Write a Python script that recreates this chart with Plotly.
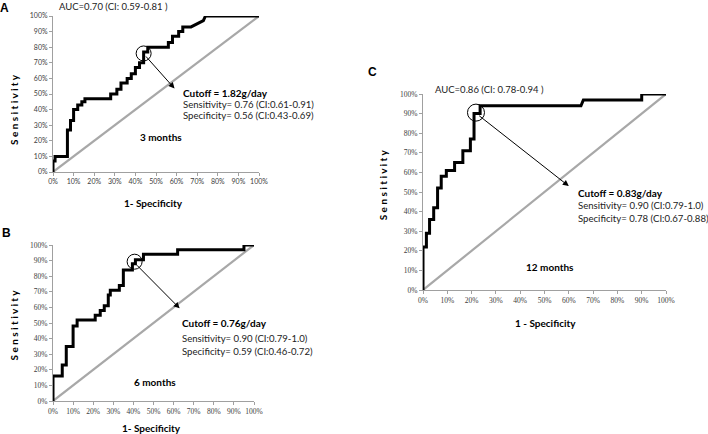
import plotly.graph_objects as go

# ---------------- data (percent) ----------------
fpr_3m = [0, 0, 1, 1, 7, 7, 8.5, 8.5, 10, 10, 12, 12, 14, 14, 15.5, 15.5, 28, 28, 31, 31,
          33, 33, 36, 36, 38, 38, 40, 40, 42, 42, 44, 44, 46, 46, 56, 56, 58, 58, 61, 61,
          63, 63, 67, 73, 74, 100]
tpr_3m = [0, 7, 7, 10, 10, 27, 27, 33, 33, 40, 40, 43, 43, 45, 45, 47, 47, 50, 50, 53,
          53, 57, 57, 60, 60, 63, 63, 67, 67, 70, 70, 77, 77, 80, 80, 83, 83, 87, 87, 90,
          90, 93, 93, 97, 100, 100]

fpr_6m = [0, 0, 4.6, 4.6, 6.6, 6.6, 10, 10, 12, 12, 21, 21, 23.5, 23.5, 25.5, 25.5, 27.5, 27.5,
          28.5, 28.5, 33, 33, 35, 35, 39.5, 39.5, 41, 41, 45, 45, 62, 62, 95, 95, 100]
tpr_6m = [0, 16, 16, 23, 23, 35, 35, 48, 48, 52, 52, 55, 55, 58, 58, 61, 61, 68,
          68, 71, 71, 74, 74, 84, 84, 88, 88, 90.5, 90.5, 94, 94, 97, 97, 100, 100]

fpr_12m = [0, 0, 1.4, 1.4, 2.7, 2.7, 4.4, 4.4, 6, 6, 7.5, 7.5, 9.6, 9.6, 13, 13, 16.4, 16.4,
           19.5, 19.5, 21, 21, 23.5, 23.5, 65, 66, 90, 90, 100]
tpr_12m = [0, 22, 22, 29, 29, 36, 36, 42, 42, 52, 52, 58, 58, 61, 61, 65, 65, 71,
           71, 77, 77, 90, 90, 94, 94, 97, 97, 100, 100]

ref_line = [0, 100]

cut_pts_x = [44, 40.6, 21.8]
cut_pts_y = [76, 89.3, 90.5]

tick_vals = list(range(0, 101, 10))
tick_text = [f"{v}%" for v in tick_vals]

panels = ["A", "B", "C"]
auc_text = ["AUC=0.70 (CI: 0.59-0.81 )", None, "AUC=0.86 (CI: 0.78-0.94 )"]
cutoff_text = ["Cutoff = 1.82g/day", "Cutoff = 0.76g/day", "Cutoff = 0.83g/day"]
sens_text = ["Sensitivity= 0.76 (CI:0.61-0.91)", "Sensitivity= 0.90 (CI:0.79-1.0)",
             "Sensitivity= 0.90 (CI:0.79-1.0)"]
spec_text = ["Specificity= 0.56 (CI:0.43-0.69)", "Specificity= 0.59 (CI:0.46-0.72)",
             "Specificity= 0.78 (CI:0.67-0.88)"]
period_text = ["3 months", "6 months", "12 months"]
xtitle_text = ["1- Specificity", "1- Specificity", "1 - Specificity"]
ytitle_word = "Sensitivity"

# ---------------- layout geometry ----------------
W, H = 708, 434
# plot boxes in pixels (left, right, top, bottom)
boxes = [(53, 259, 16, 172), (53, 254, 245, 401), (423, 666, 94, 290)]

def px(xp): return xp / W
def py(yp): return 1 - yp / H

fig = go.Figure()

curves = [(fpr_3m, tpr_3m), (fpr_6m, tpr_6m), (fpr_12m, tpr_12m)]
circle_sizes = [15, 15, 17]
for i, (fx, ty) in enumerate(curves):
    xa = "x" if i == 0 else f"x{i+1}"
    ya = "y" if i == 0 else f"y{i+1}"
    fig.add_trace(go.Scatter(x=ref_line, y=ref_line, mode="lines", xaxis=xa, yaxis=ya,
                             line=dict(color="#a8a8a8", width=2.2), cliponaxis=False,
                             showlegend=False, hoverinfo="skip"))
    fig.add_trace(go.Scatter(x=fx, y=ty, mode="lines", xaxis=xa, yaxis=ya,
                             line=dict(color="black", width=3), cliponaxis=False,
                             showlegend=False))
    fig.add_trace(go.Scatter(x=[cut_pts_x[i]], y=[cut_pts_y[i]], mode="markers", xaxis=xa, yaxis=ya,
                             marker=dict(symbol="circle-open", size=circle_sizes[i],
                                         color="black", line=dict(width=1)),
                             cliponaxis=False, showlegend=False))

tick_font_A = dict(family="Lato, Open Sans, sans-serif", size=7, color="#404040")
tick_font_BC = dict(family="Liberation Serif, Times New Roman, serif", size=7.5, color="#404040")

axis_common = dict(range=[0, 100], tickvals=tick_vals, ticktext=tick_text, showgrid=False,
                   zeroline=False, showline=True, linecolor="#a0a0a0", linewidth=1,
                   ticks="outside", ticklen=3, tickcolor="#a0a0a0", fixedrange=True,
                   automargin=False)

layout = dict(width=W, height=H, margin=dict(l=0, r=0, t=0, b=0, pad=0, autoexpand=False),
              paper_bgcolor="white", plot_bgcolor="white", showlegend=False)
for i, (l, r, t, b) in enumerate(boxes):
    sx = "" if i == 0 else str(i + 1)
    tf = tick_font_A if i == 0 else tick_font_BC
    layout[f"xaxis{sx}"] = dict(axis_common, domain=[px(l), px(r)], anchor=f"y{sx}",
                                tickfont=tf)
    layout[f"yaxis{sx}"] = dict(axis_common, domain=[py(b), py(t)], anchor=f"x{sx}",
                                tickfont=tf)
fig.update_layout(**layout)

txt_font = "Lato, Open Sans, sans-serif"
ann = []
# text positions (data coords)
cut_pos = [(62, 50.4, 43, 36), (63.2, 49.8, 40.2, 31.6), (63, 49.6, 43, 36.6)]
period_pos = [(52.4, 22.4), (50.7, 12.2), (52.3, 11.9)]
period_size = [10, 10, 10]
arrows = [((44.5, 75), (59, 53.5)), ((41, 88), (63, 59.4)), ((22.5, 89.5), (60, 53))]
letter_pos = [(4, 8), (6.5, 233), (372, 72)]
auc_pos = [(56.7, 6.7), None, (432.7, 89.3)]
xtitle_pos = [(153, 203), (151, 428), (545, 322.7)]
xtitle_size = [10, 10, 10]
ytitle_pos = [(14, 110), (13.5, 325), (383.3, 185)]
ytitle_size = [10, 10, 10]

for i in range(3):
    sx = "" if i == 0 else str(i + 1)
    xr, yr = f"x{sx}", f"y{sx}"
    cx, cy1, cy2, cy3 = cut_pos[i]
    ann.append(dict(x=cx, y=cy1, xref=xr, yref=yr, text=f"<b>{cutoff_text[i]}</b>", showarrow=False,
                    xanchor="left", yanchor="middle", font=dict(family=txt_font, size=10, color="black")))
    ann.append(dict(x=cx, y=cy2, xref=xr, yref=yr, text=sens_text[i], showarrow=False,
                    xanchor="left", yanchor="middle", font=dict(family=txt_font, size=9.6, color="#222")))
    ann.append(dict(x=cx, y=cy3, xref=xr, yref=yr, text=spec_text[i], showarrow=False,
                    xanchor="left", yanchor="middle", font=dict(family=txt_font, size=9.6, color="#222")))
    ann.append(dict(x=period_pos[i][0], y=period_pos[i][1], xref=xr, yref=yr,
                    xanchor="center", yanchor="middle",
                    text=f"<b>{period_text[i]}</b>", showarrow=False,
                    font=dict(family=txt_font, size=period_size[i], color="black")))
    (ax0, ay0), (hx, hy) = arrows[i]
    ann.append(dict(x=hx, y=hy, ax=ax0, ay=ay0, xref=xr, yref=yr, axref=xr, ayref=yr, text="",
                    showarrow=True, arrowhead=2, arrowsize=1.2, arrowwidth=1, arrowcolor="black",
                    standoff=0, startstandoff=0))
    lx, ly = letter_pos[i]
    ann.append(dict(x=px(lx), y=py(ly), xref="paper", yref="paper", text=f"<b>{panels[i]}</b>",
                    xanchor="center", yanchor="middle",
                    showarrow=False, font=dict(family="Liberation Sans, Arial, sans-serif", size=12,
                                               color="black")))
    if auc_pos[i] is not None:
        ax_, ay_ = auc_pos[i]
        ann.append(dict(x=px(ax_), y=py(ay_), xref="paper", yref="paper", text=auc_text[i],
                        showarrow=False, xanchor="left", yanchor="middle",
                        font=dict(family=txt_font, size=9.5, color="#222")))
    tx, ty_ = xtitle_pos[i]
    ann.append(dict(x=px(tx), y=py(ty_), xref="paper", yref="paper", text=f"<b>{xtitle_text[i]}</b>",
                    xanchor="center", yanchor="middle",
                    showarrow=False, font=dict(family=txt_font, size=xtitle_size[i], color="black")))
    yx, yy = ytitle_pos[i]
    ann.append(dict(x=px(yx), y=py(yy), xref="paper", yref="paper",
                    text="<b>" + " ".join(ytitle_word) + "</b>",
                    xanchor="center", yanchor="middle",
                    showarrow=False, textangle=-90,
                    font=dict(family=txt_font, size=ytitle_size[i], color="black")))

fig.update_layout(annotations=ann)
fig.write_html("out.html", config={"displayModeBar": False},
               post_script="document.body.style.margin='0';document.body.style.overflow='hidden';")
